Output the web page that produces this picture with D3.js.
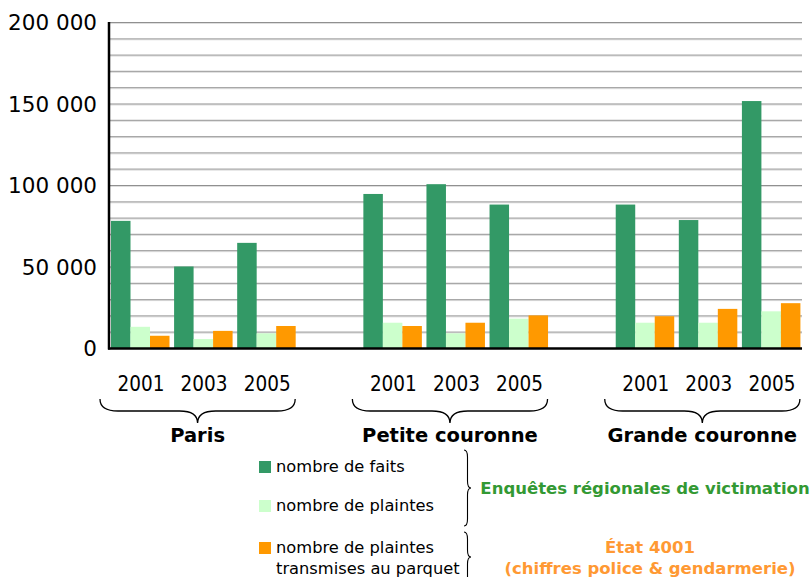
<!DOCTYPE html>
<html>
<head>
<meta charset="utf-8">
<script src="https://cdn.jsdelivr.net/npm/d3@7"></script>
<style>
  body { margin: 0; background: #fff; }
  svg text { font-family: "DejaVu Sans", Verdana, sans-serif; }
  svg text.cond { font-stretch: condensed; }
</style>
</head>
<body>
<svg id="chart" width="812" height="577"></svg>
<script>
// data
var regions = ["Paris", "Petite couronne", "Grande couronne"];
var years = ["2001", "2003", "2005"];
var seriesNames = ["nombre de faits", "nombre de plaintes", "nombre de plaintes transmises au parquet"];
var seriesColors = ["#339966", "#ccffcc", "#ff9900"];
// one array per series, in order Paris 2001..2005, Petite 2001..2005, Grande 2001..2005
var faits = [78000, 50000, 64500, 94500, 100500, 88000, 88000, 78500, 151500];
var plaintes = [13000, 5500, 9000, 15500, 9000, 18000, 15500, 15500, 22500];
var transmises = [7500, 10500, 13500, 13500, 15500, 20000, 19500, 24000, 27500];
var yTicks = [0, 50000, 100000, 150000, 200000];

var svg = d3.select("#chart");

//slots : 3 years per region, one empty slot between regions
var slots = [];
regions.forEach(function(r, i) {
   years.forEach(function(y) { slots.push(r + "|" + y); });
   if (i < regions.length - 1) slots.push("gap" + i);
});

var x = d3.scaleBand().domain(slots).range([109, 803]);
var xs = d3.scaleBand().domain(seriesNames).range([2, 60.5]);
var y = d3.scaleLinear().domain([0, 200000]).range([348, 22]);

var plotLeft = 109, plotRight = 802;

//gridlines every 10 000
var grid = d3.range(10000, 200001, 10000);
svg.append("g").selectAll("line.sh").data(grid).join("line")
   .attr("x1", plotLeft).attr("x2", plotRight)
   .attr("y1", function(d) { return y(d) + 1.5; }).attr("y2", function(d) { return y(d) + 1.5; })
   .attr("stroke", "#dedede").attr("stroke-width", 1);
svg.append("g").selectAll("line.gr").data(grid).join("line")
   .attr("x1", plotLeft).attr("x2", plotRight)
   .attr("y1", function(d) { return y(d) + 0.5; }).attr("y2", function(d) { return y(d) + 0.5; })
   .attr("stroke", function(d) { return d % 50000 == 0 ? "#909090" : "#a8a8a8"; })
   .attr("stroke-width", 1.2);

//bars
var rows = [];
var allSeries = [faits, plaintes, transmises];
regions.forEach(function(r, ri) {
   years.forEach(function(yr, yi) {
      seriesNames.forEach(function(s, si) {
         rows.push({slot: r + "|" + yr, series: s, color: seriesColors[si], value: allSeries[si][ri * 3 + yi]});
      });
   });
});

svg.append("g").selectAll("rect").data(rows).join("rect")
   .attr("x", function(d) { return x(d.slot) + xs(d.series); })
   .attr("width", xs.bandwidth())
   .attr("y", function(d) { return y(d.value); })
   .attr("height", function(d) { return y(0) - y(d.value); })
   .attr("fill", function(d) { return d.color; });

//axes lines
svg.append("line").attr("x1", plotLeft).attr("x2", plotLeft).attr("y1", y(200000)).attr("y2", y(0) + 1.5)
   .attr("stroke", "#000").attr("stroke-width", 2.5);
svg.append("line").attr("x1", plotLeft - 1).attr("x2", plotRight).attr("y1", y(0) + 0.5).attr("y2", y(0) + 0.5)
   .attr("stroke", "#000").attr("stroke-width", 2.5);

//y tick labels
var fmt = function(v) { return d3.format(",")(v).replace(/,/g, " "); };
svg.append("g").selectAll("text").data(yTicks).join("text")
   .attr("x", 97).attr("y", function(d) { return y(d) + 8; })
   .attr("text-anchor", "end").attr("font-size", "21.5px").attr("fill", "#000")
   .text(fmt);

//year labels
var yearSlots = slots.filter(function(s) { return s.indexOf("|") > 0; });
svg.append("g").selectAll("text").data(yearSlots).join("text")
   .attr("class", "cond")
   .attr("x", function(d) { return x(d) + 32; })
   .attr("y", 391)
   .attr("text-anchor", "middle").attr("font-size", "20.5px").attr("fill", "#000")
   .text(function(d) { return d.split("|")[1]; });

//horizontal brace pointing down
function hBrace(x0, x1, y0, h) {
   var m = (x0 + x1) / 2, q = h / 2;
   return "M" + x0 + "," + y0 +
      " Q" + x0 + "," + (y0 + q) + " " + (x0 + q * 1.5) + "," + (y0 + q) +
      " L" + (m - q * 1.5) + "," + (y0 + q) +
      " Q" + m + "," + (y0 + q) + " " + m + "," + (y0 + h) +
      " Q" + m + "," + (y0 + q) + " " + (m + q * 1.5) + "," + (y0 + q) +
      " L" + (x1 - q * 1.5) + "," + (y0 + q) +
      " Q" + x1 + "," + (y0 + q) + " " + x1 + "," + y0;
}
//vertical brace pointing right
function vBrace(xp, y0, y1, w, tipY) {
   var m = tipY === undefined ? (y0 + y1) / 2 : tipY, q = w / 2;
   return "M" + xp + "," + y0 +
      " Q" + (xp + q) + "," + y0 + " " + (xp + q) + "," + (y0 + q * 2) +
      " L" + (xp + q) + "," + (m - q * 2) +
      " Q" + (xp + q) + "," + m + " " + (xp + w) + "," + m +
      " Q" + (xp + q) + "," + m + " " + (xp + q) + "," + (m + q * 2) +
      " L" + (xp + q) + "," + (y1 - q * 2) +
      " Q" + (xp + q) + "," + y1 + " " + xp + "," + y1;
}

regions.forEach(function(r) {
   var a = x(r + "|2001"), b = x(r + "|2005") + 60;
   svg.append("path").attr("d", hBrace(a - 9, b, 399, 24))
      .attr("fill", "none").attr("stroke", "#000").attr("stroke-width", 1.3);
   svg.append("text").attr("x", (a - 9 + b) / 2).attr("y", 442)
      .attr("text-anchor", "middle").attr("font-size", "19.5px").attr("font-weight", "bold")
      .attr("fill", "#000").text(r);
});

//legend
var legY = [461, 500, 542];
seriesNames.forEach(function(s, i) {
   svg.append("rect").attr("x", 259).attr("y", legY[i]).attr("width", 12).attr("height", 12)
      .attr("fill", seriesColors[i]);
});
var legLines = [["nombre de faits"], ["nombre de plaintes"], ["nombre de plaintes", "transmises au parquet"]];
legLines.forEach(function(lines, i) {
   lines.forEach(function(t, j) {
      svg.append("text").attr("x", 276).attr("y", legY[i] + 11 + j * 21)
         .attr("font-size", "16.3px").attr("fill", "#000").text(t);
   });
});

svg.append("path").attr("d", vBrace(464, 450, 526, 7))
   .attr("fill", "none").attr("stroke", "#000").attr("stroke-width", 1.1);
svg.append("path").attr("d", vBrace(464, 532, 600, 7, 557))
   .attr("fill", "none").attr("stroke", "#000").attr("stroke-width", 1.1);

svg.append("text").attr("x", 645).attr("y", 494).attr("text-anchor", "middle")
   .attr("font-size", "16.5px").attr("font-weight", "bold").attr("fill", "#339933")
   .text("Enquêtes régionales de victimation");
svg.append("text").attr("x", 650).attr("y", 553).attr("text-anchor", "middle")
   .attr("font-size", "16.5px").attr("font-weight", "bold").attr("fill", "#ff9933")
   .text("État 4001");
svg.append("text").attr("x", 650).attr("y", 574).attr("text-anchor", "middle")
   .attr("font-size", "16.5px").attr("font-weight", "bold").attr("fill", "#ff9933")
   .text("(chiffres police & gendarmerie)");
</script>
</body>
</html>
